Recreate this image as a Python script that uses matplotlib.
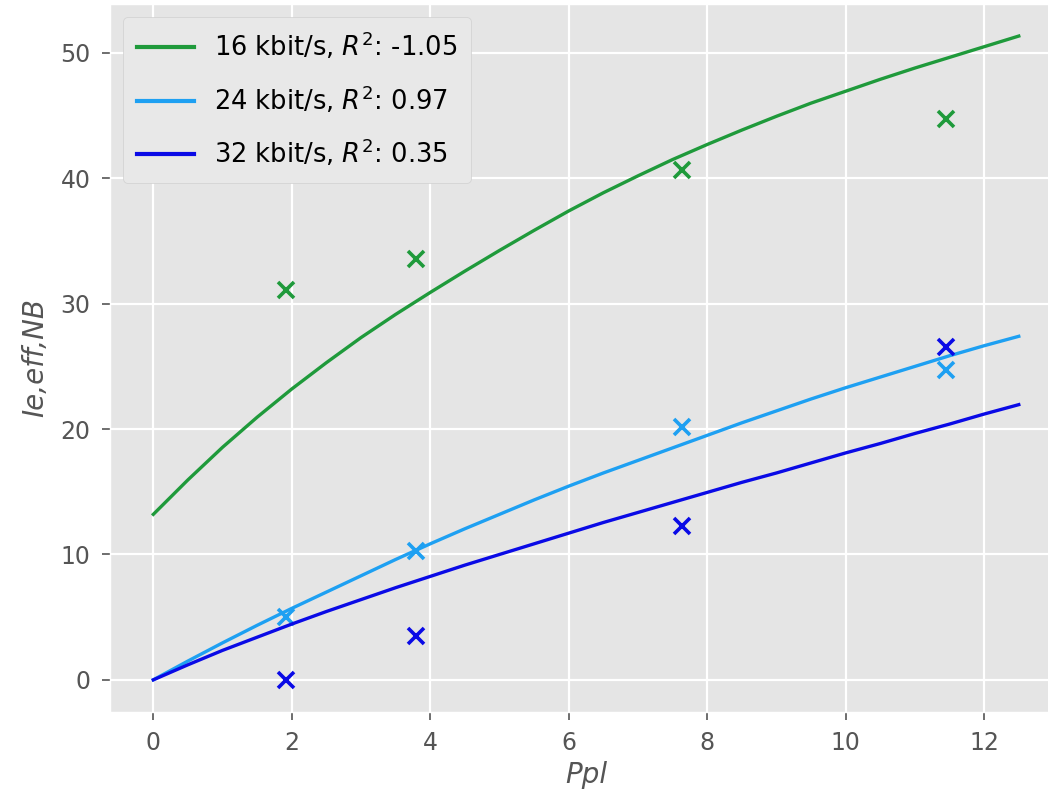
import matplotlib
matplotlib.use("Agg")
import matplotlib.pyplot as plt

plt.style.use("ggplot")

# Measured points per bitrate
ppl_points = [1.92, 3.80, 7.63, 11.45]
ie_16 = [31.1, 33.6, 40.65, 44.7]
ie_24 = [5.0, 10.25, 20.15, 24.7]
ie_32 = [0.0, 3.5, 12.3, 26.55]

# Fitted curves, sampled along Ppl
ppl_curve = [0, 0.5, 1, 1.5, 2, 2.5, 3, 3.5, 4, 4.5, 5, 5.5, 6, 6.5,
             7, 7.5, 8, 8.5, 9, 9.5, 10, 10.5, 11, 11.5, 12, 12.5]
fit_16 = [13.2, 15.95, 18.55, 20.95, 23.2, 25.3, 27.3, 29.15, 30.9, 32.6, 34.25, 35.85, 37.4,
          38.85, 40.2, 41.5, 42.7, 43.85, 44.95, 46.0, 46.95, 47.9, 48.8, 49.65, 50.5, 51.35]
fit_24 = [0.0, 1.5, 2.95, 4.35, 5.7, 7.0, 8.3, 9.6, 10.85, 12.05, 13.2, 14.35, 15.45,
          16.5, 17.5, 18.5, 19.5, 20.5, 21.45, 22.4, 23.3, 24.15, 25.0, 25.85, 26.65, 27.4]
fit_32 = [0.0, 1.2, 2.35, 3.4, 4.45, 5.45, 6.4, 7.35, 8.25, 9.15, 10.0, 10.85, 11.7,
          12.55, 13.35, 14.15, 14.95, 15.75, 16.5, 17.3, 18.1, 18.85, 19.65, 20.4, 21.2, 21.95]

labels = ["16 kbit/s, $R^2$: -1.05", "24 kbit/s, $R^2$: 0.97", "32 kbit/s, $R^2$: 0.35"]
colors = ["#1f9a3b", "#1ea0f2", "#0a0ae6"]

fig = plt.figure(figsize=(10.48, 8.05), dpi=100)
ax = fig.add_axes([0.105, 0.1155, 0.9084, 0.8797])
ax.set_facecolor("#E5E5E5")

for fit, pts, col, lab in zip([fit_16, fit_24, fit_32], [ie_16, ie_24, ie_32], colors, labels):
    ax.plot(ppl_curve, fit, color=col, lw=2.4, label=lab)
    ax.plot(ppl_points, pts, linestyle="none", marker="x", color=col, ms=11, mew=2.6)

ax.grid(True, color="white", lw=1.6)
ax.set_axisbelow(True)
ax.set_yticks([0, 10, 20, 30, 40, 50])
ax.set_xticks([0, 2, 4, 6, 8, 10, 12])
ax.tick_params(axis="both", labelsize=17, colors="#555555", length=6, width=1.2, pad=8)
for t in ax.get_xticklabels() + ax.get_yticklabels():
    t.set_color("#555555")

ax.set_xlabel("Ppl", fontsize=20, style="italic", color="#555555", labelpad=4)
ax.set_ylabel("Ie,eff,NB", fontsize=20, style="italic", color="#555555", labelpad=8)

leg = ax.legend(loc="upper left", fontsize=18.5, handlelength=2.2, labelspacing=0.85,
                borderpad=0.55, handletextpad=0.8, borderaxespad=0.5,
                facecolor="#E8E8E8", edgecolor="#D0D0D0", framealpha=1.0)
for line in leg.get_lines():
    line.set_linewidth(3)

fig.savefig("out.png", dpi=100, facecolor="white")
